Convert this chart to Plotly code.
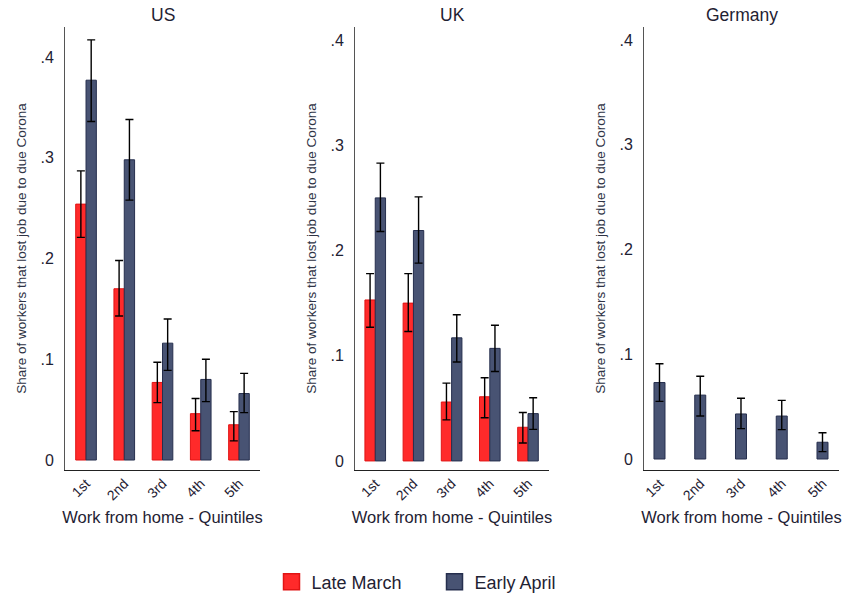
import plotly.graph_objects as go

# ---------------- data ----------------
quintiles = ["1st", "2nd", "3rd", "4th", "5th"]
y_tick_vals = [0, 0.1, 0.2, 0.3, 0.4]
y_tick_text = ["0", ".1", ".2", ".3", ".4"]
panel_titles = ["US", "UK", "Germany"]
series_names = ["Late March", "Early April"]

us_march = [0.254, 0.170, 0.077, 0.046, 0.035]
us_march_lo = [0.221, 0.143, 0.057, 0.029, 0.019]
us_march_hi = [0.287, 0.198, 0.097, 0.061, 0.048]
us_april = [0.377, 0.298, 0.116, 0.080, 0.066]
us_april_lo = [0.336, 0.258, 0.089, 0.058, 0.047]
us_april_hi = [0.417, 0.338, 0.140, 0.100, 0.086]

uk_march = [0.153, 0.150, 0.056, 0.061, 0.032]
uk_march_lo = [0.127, 0.123, 0.039, 0.041, 0.017]
uk_march_hi = [0.178, 0.178, 0.074, 0.079, 0.046]
uk_april = [0.250, 0.219, 0.117, 0.107, 0.045]
uk_april_lo = [0.218, 0.188, 0.094, 0.085, 0.030]
uk_april_hi = [0.283, 0.251, 0.139, 0.129, 0.060]

de_april = [0.073, 0.061, 0.043, 0.041, 0.016]
de_april_lo = [0.055, 0.041, 0.029, 0.028, 0.007]
de_april_hi = [0.091, 0.079, 0.058, 0.056, 0.025]

# ---------------- style ----------------
RED = "rgb(255,42,42)"
RED_LINE = "rgb(225,20,20)"
BLUE = "rgb(72,83,115)"
BLUE_LINE = "rgb(38,47,78)"
FONT = "Liberation Sans, Arial, sans-serif"
TXT = "#1f2233"
BW = 0.27


def err(vals, lo, hi):
    return dict(type="data", symmetric=False,
                array=[h - v for v, h in zip(vals, hi)],
                arrayminus=[v - l for v, l in zip(vals, lo)],
                color="black", thickness=1.4, width=4)


fig = go.Figure()

def add_bar(xa, ya, vals, lo, hi, color, line, offset):
    fig.add_trace(go.Bar(
        x=quintiles, y=vals, xaxis=xa, yaxis=ya,
        width=BW, offset=offset,
        marker=dict(color=color, line=dict(color=line, width=1)),
        error_y=err(vals, lo, hi), showlegend=False,
    ))

add_bar("x", "y", us_march, us_march_lo, us_march_hi, RED, RED_LINE, -BW)
add_bar("x", "y", us_april, us_april_lo, us_april_hi, BLUE, BLUE_LINE, 0)
add_bar("x2", "y2", uk_march, uk_march_lo, uk_march_hi, RED, RED_LINE, -BW)
add_bar("x2", "y2", uk_april, uk_april_lo, uk_april_hi, BLUE, BLUE_LINE, 0)
add_bar("x3", "y3", de_april, de_april_lo, de_april_hi, BLUE, BLUE_LINE, -BW / 2)

# legend proxies
for name, c, lc in zip(series_names, [RED, BLUE], [RED_LINE, BLUE_LINE]):
    fig.add_trace(go.Scatter(
        x=[None], y=[None], mode="markers", name=name, xaxis="x", yaxis="y",
        marker=dict(symbol="square", size=22, color=c, line=dict(color=lc, width=1.5)),
    ))

W, H = 847, 596
x_domains = [(65, 260), (355, 549), (644, 839)]
x_ranges = [(-0.55, 4.55), (-0.53, 4.55), (-0.38, 4.405)]
y_ranges = [(-0.0099, 0.4298), (-0.0086, 0.4124), (-0.0105, 0.4124)]
y_dom = [1 - 470 / H, 1 - 27 / H]

layout = dict(
    width=W, height=H, margin=dict(l=0, r=0, t=0, b=0, autoexpand=False),
    paper_bgcolor="white", plot_bgcolor="white",
    barmode="overlay",
    font=dict(family=FONT, color=TXT),
    showlegend=True,
    legend=dict(orientation="h", x=0.513, xanchor="center", y=1 - 582 / H, yanchor="middle",
                font=dict(size=18, family=FONT, color=TXT), itemsizing="trace",
                entrywidth=118, bgcolor="rgba(0,0,0,0)"),
)

annotations = []
for i, (dom, xr, yr, title) in enumerate(zip(x_domains, x_ranges, y_ranges, panel_titles)):
    sfx = "" if i == 0 else str(i + 1)
    layout["xaxis" + sfx] = dict(
        domain=[dom[0] / W, dom[1] / W], anchor="y" + sfx,
        type="category", categoryorder="array", categoryarray=quintiles,
        range=list(xr), showline=True, linecolor="#222", linewidth=1,
        ticks="", tickangle=-45, ticklabelstandoff=-1,
        tickfont=dict(size=14, family=FONT, color=TXT),
        showgrid=False, zeroline=False, automargin=False,
        title=dict(text="Work from home - Quintiles", font=dict(size=16.5, family=FONT, color=TXT), standoff=9),
    )
    layout["yaxis" + sfx] = dict(
        domain=y_dom, anchor="x" + sfx, range=list(yr),
        showline=True, linecolor="#555", linewidth=1,
        ticks="", tickvals=y_tick_vals, ticktext=y_tick_text, ticklabelstandoff=7,
        tickfont=dict(size=16, family=FONT, color=TXT),
        showgrid=False, zeroline=False, automargin=False,
        title=dict(text="Share of workers that lost job due to due Corona",
                   font=dict(size=13.5, family=FONT, color="#2e3345"), standoff=10),
    )
    annotations.append(dict(
        text=title, x=(dom[0] + dom[1]) / 2 / W, y=1 - 15 / H, xref="paper", yref="paper",
        xanchor="center", yanchor="middle", showarrow=False,
        font=dict(size=17.5, family=FONT, color=TXT),
    ))

layout["annotations"] = annotations
fig.update_layout(**layout)
fig.write_html("out.html", config={"displayModeBar": False},
               post_script="document.body.style.margin='0';document.body.style.overflow='hidden';")
